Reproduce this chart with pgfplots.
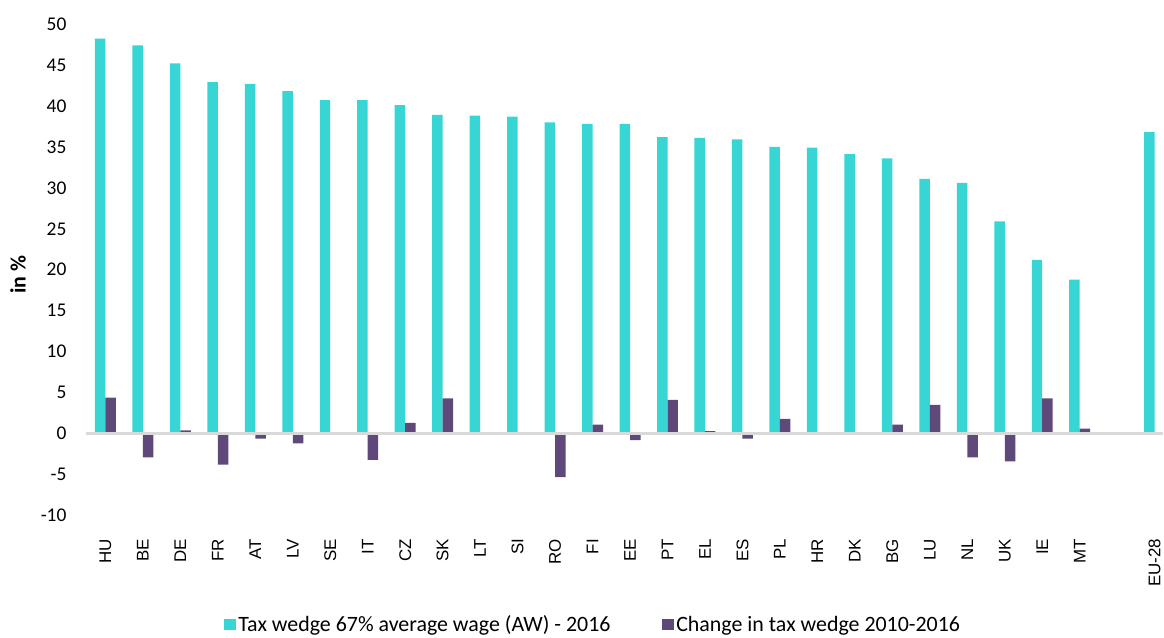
\documentclass[border=0pt]{standalone}
\usepackage{pgfplots}
\pgfplotsset{compat=1.18}
\usepackage{fontspec}
\setmainfont{Carlito}
\newfontfamily\xlabfont{Liberation Sans}
\usetikzlibrary{calc}
\definecolor{cyanbar}{RGB}{56,213,213}
\definecolor{purplebar}{RGB}{94,73,122}
\definecolor{zerogray}{RGB}{217,217,217}
\begin{document}
\begin{tikzpicture}
\begin{axis}[
  name=ax,
  scale only axis,
  width=1078bp, height=492bp,
  xmin=-0.52, xmax=28.22,
  ymin=-10, ymax=50,
  ytick={-10,-5,0,5,10,15,20,25,30,35,40,45,50},
  xtick={0,1,2,3,4,5,6,7,8,9,10,11,12,13,14,15,16,17,18,19,20,21,22,23,24,25,26,28},
  xticklabels={HU,BE,DE,FR,AT,LV,SE,IT,CZ,SK,LT,SI,RO,FI,EE,PT,EL,ES,PL,HR,DK,BG,LU,NL,UK,IE,MT,EU-28},
  axis line style={draw=none},
  tick style={draw=none},
  /pgf/number format/assume math mode=true,
  yticklabel style={font=\fontsize{19.5}{22}\selectfont, xshift=-16bp},
  xticklabel style={font=\xlabfont\fontsize{17}{20}\selectfont, rotate=90, anchor=east, xshift=-20bp},
  ylabel={\textbf{in \%}},
  every axis y label/.style={at={(axis description cs:-0.063,0.49)}, rotate=90, anchor=center,
    font=\fontsize{22}{24}\selectfont},
  legend columns=2,
  legend style={at={(axis description cs:0.471,-0.222)}, anchor=center, draw=none, fill=none,
    font=\fontsize{22}{24}\selectfont, /tikz/every even column/.append style={column sep=50bp}},
  legend image code/.code={\fill[#1] (-2bp,-5.5bp) rectangle (10bp,5.5bp);},
  clip=false,
]
\addplot[ybar, bar width=10.5bp, bar shift=-5.25bp, fill=cyanbar, draw=none] table {
x y
0 48.2
1 47.4
2 45.2
3 42.9
4 42.7
5 41.8
6 40.7
7 40.7
8 40.1
9 38.9
10 38.8
11 38.7
12 38.0
13 37.8
14 37.8
15 36.2
16 36.1
17 35.9
18 35.0
19 34.9
20 34.1
21 33.6
22 31.1
23 30.6
24 25.9
25 21.2
26 18.8
28 36.8
};
\addlegendentry{Tax wedge 67\% average wage (AW) - 2016}
\addplot[ybar, bar width=10.5bp, bar shift=5.25bp, fill=purplebar, draw=none] table {
x y
0 4.4
1 -2.9
2 0.4
3 -3.8
4 -0.6
5 -1.2
6 0.1
7 -3.2
8 1.3
9 4.3
10 0.05
11 0.05
12 -5.3
13 1.1
14 -0.8
15 4.1
16 0.3
17 -0.6
18 1.8
19 0
20 0
21 1.1
22 3.5
23 -2.9
24 -3.4
25 4.3
26 0.6
};
\addlegendentry{Change in tax wedge 2010-2016}
\draw[zerogray, line width=2.2bp] (axis cs:-0.52,0) -- (axis cs:28.22,0);
\end{axis}
\path[use as bounding box] ($(ax.south west)+(-86bp,-114bp)$) rectangle ($(ax.south west)+(1078bp,516bp)$);
\end{tikzpicture}
\end{document}
